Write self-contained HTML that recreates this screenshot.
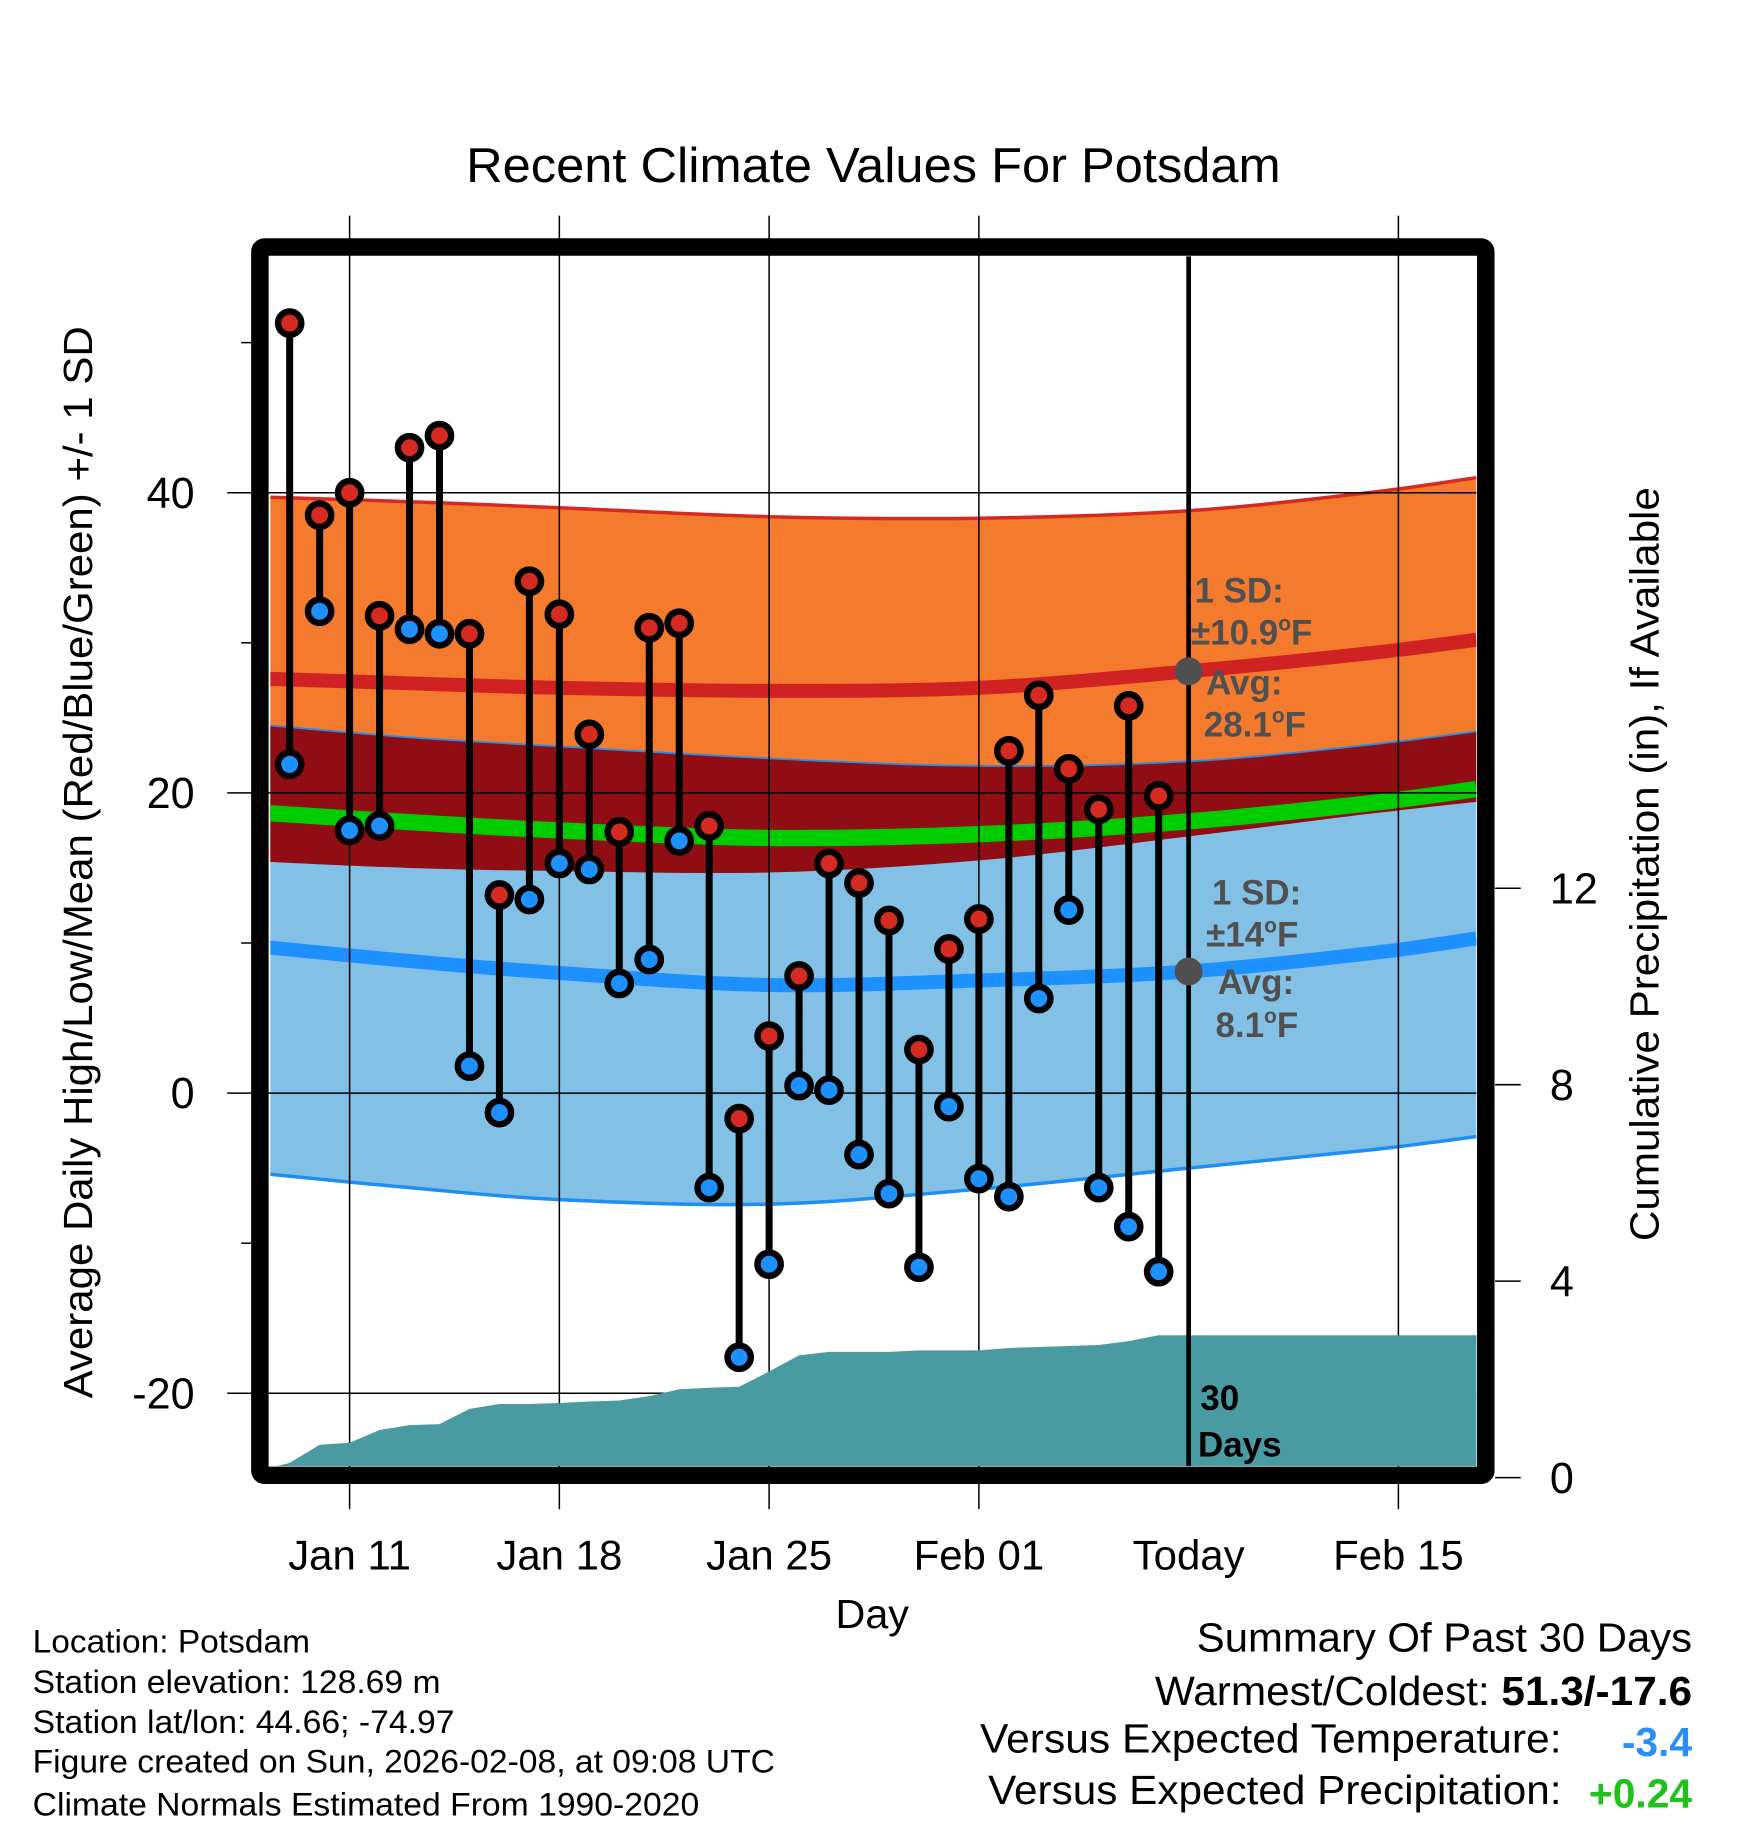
<!DOCTYPE html>
<html><head><meta charset="utf-8"><style>
html,body{margin:0;padding:0;background:#fff;}
svg{display:block;font-family:"Liberation Sans",sans-serif;}
</style></head><body>
<svg id="chart" width="1748" height="1828" viewBox="0 0 1500 1568.65" xmlns="http://www.w3.org/2000/svg">
<text x="400" y="156" font-size="42" textLength="699" lengthAdjust="spacingAndGlyphs">Recent Climate Values For Potsdam</text>
<g id="bands"></g>
<g id="grid"></g>
<g id="precip"></g>
<g id="stems"></g>
<g id="annot" font-weight="bold" font-size="30" fill="#505050">
 <text x="1025" y="517">1 SD:</text>
 <text x="1022" y="553">±10.9<tspan font-size="18" dy="-12">o</tspan><tspan dy="12">F</tspan></text>
 <text x="1035" y="596">Avg:</text>
 <text x="1033" y="632">28.1<tspan font-size="18" dy="-12">o</tspan><tspan dy="12">F</tspan></text>
 <text x="1040" y="776">1 SD:</text>
 <text x="1035" y="812">±14<tspan font-size="18" dy="-12">o</tspan><tspan dy="12">F</tspan></text>
 <text x="1045" y="853">Avg:</text>
 <text x="1043" y="890">8.1<tspan font-size="18" dy="-12">o</tspan><tspan dy="12">F</tspan></text>
 <text x="1030" y="1210" fill="#000">30</text>
 <text x="1028" y="1250" fill="#000">Days</text>
</g>
<rect x="223" y="212" width="1052" height="1054" fill="none" stroke="#000" stroke-width="15" rx="4"/>
<g id="axes" font-size="37"></g>
<text x="717" y="1397" font-size="35" textLength="63" lengthAdjust="spacingAndGlyphs">Day</text>
<text transform="translate(79,1200) rotate(-90)" font-size="35" textLength="920" lengthAdjust="spacingAndGlyphs">Average Daily High/Low/Mean (Red/Blue/Green) +/- 1 SD</text>
<text transform="translate(1423,1065) rotate(-90)" font-size="35" textLength="647" lengthAdjust="spacingAndGlyphs">Cumulative Precipitation (in), If Available</text>
<g font-size="28">
 <text x="28" y="1418" textLength="238" lengthAdjust="spacingAndGlyphs">Location: Potsdam</text>
 <text x="28" y="1453" textLength="350" lengthAdjust="spacingAndGlyphs">Station elevation: 128.69 m</text>
 <text x="28" y="1487" textLength="362" lengthAdjust="spacingAndGlyphs">Station lat/lon: 44.66; -74.97</text>
 <text x="28" y="1521" textLength="637" lengthAdjust="spacingAndGlyphs">Figure created on Sun, 2026-02-08, at 09:08 UTC</text>
 <text x="28" y="1558" textLength="572" lengthAdjust="spacingAndGlyphs">Climate Normals Estimated From 1990-2020</text>
</g>
<g font-size="35">
 <text x="1027" y="1417" textLength="425" lengthAdjust="spacingAndGlyphs">Summary Of Past 30 Days</text>
 <text x="991" y="1463" textLength="461" lengthAdjust="spacingAndGlyphs">Warmest/Coldest: <tspan font-weight="bold">51.3/-17.6</tspan></text>
 <text x="841" y="1504" textLength="499" lengthAdjust="spacingAndGlyphs">Versus Expected Temperature:</text>
 <text x="1452" y="1507" font-weight="bold" fill="#2a8ff5" text-anchor="end">-3.4</text>
 <text x="848" y="1548" textLength="492" lengthAdjust="spacingAndGlyphs">Versus Expected Precipitation:</text>
 <text x="1452" y="1551" font-weight="bold" fill="#22c01a" text-anchor="end">+0.24</text>
</g>
</svg>
<script>
const NS="http://www.w3.org/2000/svg";
// data (days measured from Jan 1)
const obsDays=[9,10,11,12,13,14,15,16,17,18,19,20,21,22,23,24,25,26,27,28,29,30,31,32,33,34,35,36,37,38];
const highs=[51.3,38.5,40,31.8,43,43.8,30.6,13.2,34.1,31.9,23.9,17.4,31,31.3,17.8,-1.7,3.8,7.8,15.3,14,11.5,2.9,9.6,11.6,22.8,26.5,21.6,18.9,25.8,19.8];
const lows=[21.9,32.1,17.5,17.8,30.9,30.6,1.8,-1.3,12.9,15.3,14.9,7.3,8.9,16.8,-6.3,-17.6,-11.4,0.5,0.2,-4.1,-6.7,-11.6,-0.9,-5.7,-6.9,6.3,12.2,-6.3,-8.9,-11.9];
const precip=[0.3,0.67,0.71,0.97,1.07,1.09,1.40,1.50,1.50,1.52,1.55,1.57,1.66,1.80,1.83,1.85,2.16,2.49,2.56,2.56,2.56,2.59,2.59,2.59,2.64,2.66,2.68,2.70,2.78,2.90];
const normDays=[8.3,13,18,25,32,39,45,48.6];
const highMean=[27.6,27.3,27.0,26.8,27.0,28.1,29.3,30.2];
const highUpper=[39.7,39.4,39.0,38.4,38.3,38.8,40.0,41.0];
const highLower=[15.4,15.0,14.8,14.7,15.5,17.1,18.6,19.4];
const lowMean=[9.7,8.8,8.0,7.2,7.5,8.1,9.3,10.3];
const lowUpper=[24.5,23.7,23.1,22.3,21.8,22.1,23.2,24.1];
const lowLower=[-5.4,-6.3,-7.1,-7.4,-6.4,-5.0,-3.8,-2.9];
const xTickDays=[11,18,25,32,39,46];
const xTickLabels=["Jan 11","Jan 18","Jan 25","Feb 01","Today","Feb 15"];
const yTicks=[40,20,0,-20];
const y2Ticks=[0,4,8,12];
const todayDay=39;

const X=d=>300+(d-11)*25.714;
const Y=v=>938-v*12.88;
const Y2=p=>1268-p*42.15;
const XL=232,XR=1267,YT=220,YB=1258;

function el(tag,attrs,parent){const e=document.createElementNS(NS,tag);for(const k in attrs)e.setAttribute(k,attrs[k]);parent.appendChild(e);return e;}
// smooth (Catmull-Rom) path through points
function smooth(pts){let d='M'+pts[0][0]+','+pts[0][1];for(let i=0;i<pts.length-1;i++){const p0=pts[i-1]||pts[i],p1=pts[i],p2=pts[i+1],p3=pts[i+2]||p2;const c1=[p1[0]+(p2[0]-p0[0])/6,p1[1]+(p2[1]-p0[1])/6],c2=[p2[0]-(p3[0]-p1[0])/6,p2[1]-(p3[1]-p1[1])/6];d+='C'+c1[0]+','+c1[1]+' '+c2[0]+','+c2[1]+' '+p2[0]+','+p2[1];}return d;}
const bands=document.getElementById('bands');
function pts(a){return normDays.map((t,i)=>[X(t),Y(a[i])]);}
function bandPath(up,lo){const u=smooth(pts(up));const l=smooth(pts(lo).reverse()).replace(/^M/,'L');return u+l+'Z';}
function linePath(a){return smooth(pts(a));}
const cp=el('clipPath',{id:'clipIn'},bands);el('rect',{x:XL,y:YT,width:XR-XL,height:YB-YT},cp);
const bg=el('g',{'clip-path':'url(#clipIn)'},bands);
let e;
e=el('path',{d:bandPath(highUpper,highLower),fill:'#f47a2e'},bg);

e=el('path',{d:bandPath(lowUpper,lowLower),fill:'#82c0e6'},bg);

e=el('path',{d:bandPath(lowUpper,highLower),fill:'#900d14'},bg);

el('path',{d:linePath(highUpper),fill:'none',stroke:'#d42a22','stroke-width':3},bg);
el('path',{d:linePath(lowLower),fill:'none',stroke:'#1e8ff0','stroke-width':3},bg);
el('path',{d:linePath(lowUpper),fill:'none',stroke:'#1e8ff0','stroke-width':1.5},bg);
const meanAvg=highMean.map((h,i)=>(h+lowMean[i])/2);
e=el('path',{d:linePath(meanAvg),fill:'none',stroke:'#00cc00','stroke-width':14},bg);

e=el('path',{d:linePath(highMean),fill:'none',stroke:'#d02222','stroke-width':12},bg);

e=el('path',{d:linePath(lowMean),fill:'none',stroke:'#1e90ff','stroke-width':12},bg);


const grid=document.getElementById('grid');
xTickDays.forEach((d,i)=>{
  if(d===todayDay) return;
  e=el('line',{x1:X(d),x2:X(d),y1:185,y2:1295,stroke:'#000','stroke-width':1.3},grid);
  
});
yTicks.forEach(v=>{
  e=el('line',{x1:195,x2:XR,y1:Y(v),y2:Y(v),stroke:'#000','stroke-width':1.3},grid);
  
});
[50,30,10,-10].forEach(v=>{el('line',{x1:207,x2:218,y1:Y(v),y2:Y(v),stroke:'#000','stroke-width':1.3},grid);});

const pg=document.getElementById('precip');
let pd='M'+(XL+6)+','+YB;
obsDays.forEach((d,i)=>{pd+='L'+X(d)+','+Y2(precip[i]);});
pd+='L'+XR+','+Y2(precip[precip.length-1])+'L'+XR+','+Y2(0)+'L'+XL+','+Y2(0)+'Z';
e=el('path',{d:pd,fill:'#4a9aa2','clip-path':'url(#clipIn)'},pg);

e=el('line',{x1:X(todayDay),x2:X(todayDay),y1:YT,y2:YB,stroke:'#000','stroke-width':4},pg);

e=el('circle',{cx:X(todayDay),cy:Y(28.1),r:12,fill:'#505050'},pg);

e=el('circle',{cx:X(todayDay),cy:Y(8.1),r:12,fill:'#505050'},pg);


const sg=document.getElementById('stems');
obsDays.forEach((d,i)=>{
  const x=X(d);
  e=el('line',{x1:x,x2:x,y1:Y(highs[i]),y2:Y(lows[i]),stroke:'#000','stroke-width':6},sg);
  
  e=el('circle',{cx:x,cy:Y(highs[i]),r:10,fill:'#d42a22',stroke:'#000','stroke-width':5.5},sg);
  
  e=el('circle',{cx:x,cy:Y(lows[i]),r:10,fill:'#1e90ff',stroke:'#000','stroke-width':5.5},sg);
  
});

const ax=document.getElementById('axes');
xTickDays.forEach((d,i)=>{
  e=el('text',{x:X(d),y:1347,'text-anchor':'middle','font-size':36},ax);e.textContent=xTickLabels[i];
  
});
yTicks.forEach(v=>{
  e=el('text',{x:167,y:Y(v)+13,'text-anchor':'end'},ax);e.textContent=v;
  
});
y2Ticks.forEach(p=>{
  el('line',{x1:1283,x2:1305,y1:Y2(p),y2:Y2(p),stroke:'#000','stroke-width':1.3},ax);
  e=el('text',{x:1330,y:Y2(p)+13,'text-anchor':'start'},ax);e.textContent=p;
  
});
</script>
</body></html>
